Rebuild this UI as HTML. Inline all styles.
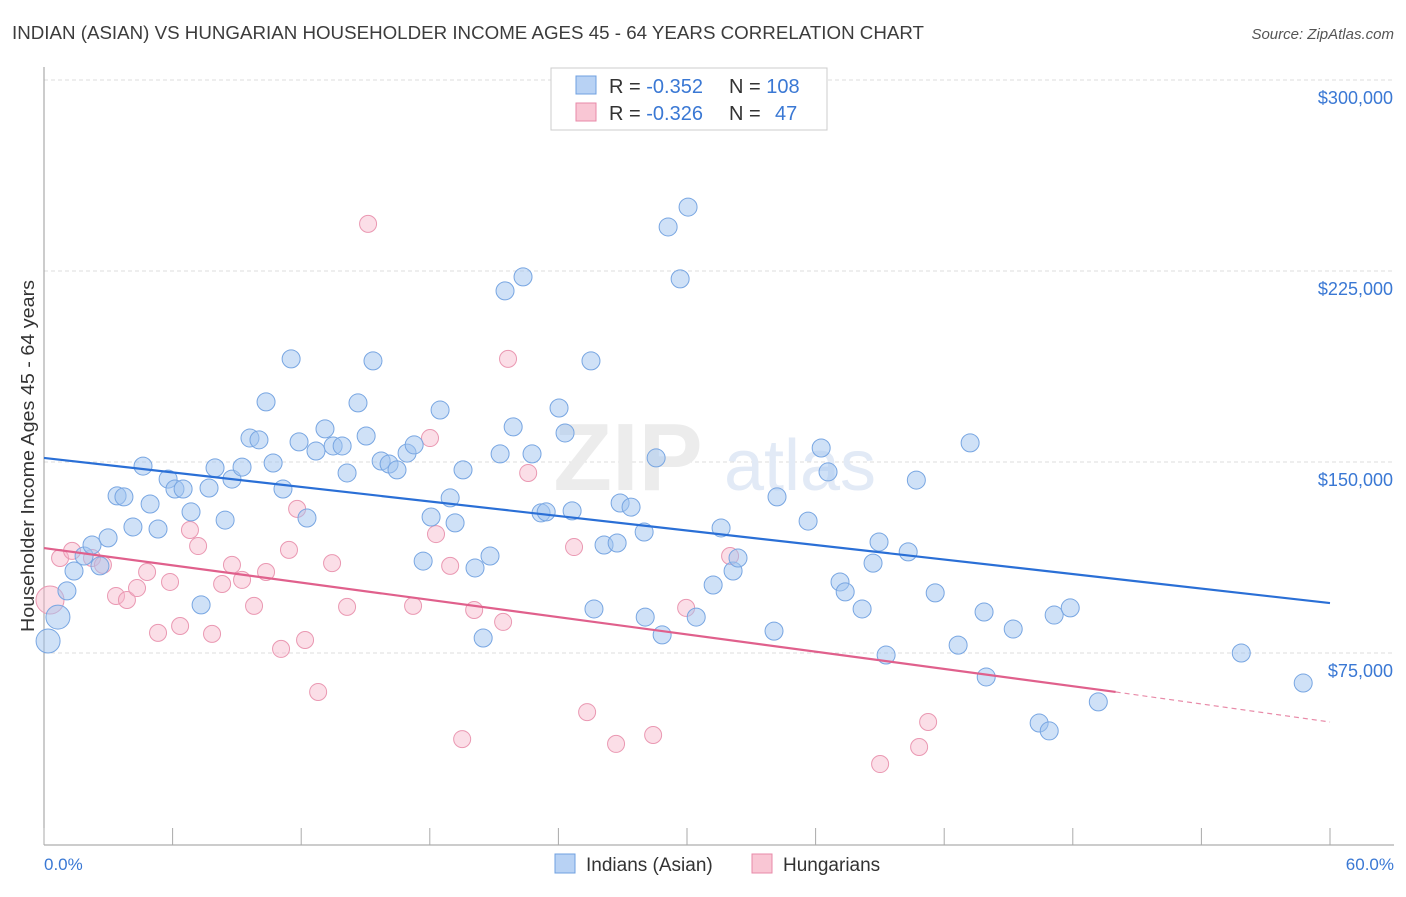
<!DOCTYPE html>
<html><head><meta charset="utf-8">
<style>
body{margin:0;background:#fff;font-family:"Liberation Sans",sans-serif;}
svg text{font-family:"Liberation Sans",sans-serif;}
</style></head>
<body>
<svg id="chart" width="1406" height="892" viewBox="0 0 1406 892" xmlns="http://www.w3.org/2000/svg">
<text x="12" y="39" font-size="18" fill="#3c3c3c" textLength="912" lengthAdjust="spacingAndGlyphs">INDIAN (ASIAN) VS HUNGARIAN HOUSEHOLDER INCOME AGES 45 - 64 YEARS CORRELATION CHART</text>
<text x="1394" y="39" font-size="15" fill="#555" font-style="italic" text-anchor="end">Source: ZipAtlas.com</text>
<g id="grid"></g>
<g>
<text x="628" y="490" font-size="96" fill="#ececec" text-anchor="middle" font-family="Liberation Serif, serif" font-weight="bold">ZIP</text>
<text x="800" y="490" font-size="72" fill="#e2eaf6" text-anchor="middle">atlas</text>
</g>
<line x1="44" y1="67" x2="44" y2="845" stroke="#999" stroke-width="1"/>
<line x1="44" y1="845" x2="1394" y2="845" stroke="#999" stroke-width="1"/>
<g id="xticks"></g>
<g id="ylabels"></g>
<text transform="translate(34,456) rotate(-90)" font-size="18" fill="#333" text-anchor="middle" textLength="352" lengthAdjust="spacingAndGlyphs">Householder Income Ages 45 - 64 years</text>
<text x="44" y="870" font-size="17" fill="#3a78d4">0.0%</text>
<text x="1394" y="870" font-size="17" fill="#3a78d4" text-anchor="end">60.0%</text>
<g id="pinkPts"></g>
<g id="bluePts"></g>
<g id="trends"></g>
<g>
<rect x="551" y="68" width="276" height="62" fill="#fff" stroke="#ccc"/>
<rect x="576" y="76" width="20" height="18" fill="#b8d2f4" stroke="#6fa0e0"/>
<rect x="576" y="103" width="20" height="18" fill="#f9c6d4" stroke="#e88aa8"/>
<text x="609" y="93" font-size="20" fill="#333">R = <tspan fill="#3a78d4">-0.352</tspan></text>
<text x="729" y="93" font-size="20" fill="#333">N = <tspan fill="#3a78d4">108</tspan></text>
<text x="609" y="120" font-size="20" fill="#333">R = <tspan fill="#3a78d4">-0.326</tspan></text>
<text x="729" y="120" font-size="20" fill="#333">N = <tspan x="775" fill="#3a78d4">47</tspan></text>
</g>
<g>
<rect x="555" y="854" width="20" height="19" fill="#b8d2f4" stroke="#6fa0e0"/>
<text x="586" y="871" font-size="19" fill="#333">Indians (Asian)</text>
<rect x="752" y="854" width="20" height="19" fill="#f9c6d4" stroke="#e88aa8"/>
<text x="783" y="871" font-size="19" fill="#333">Hungarians</text>
</g>
</svg>
<script>
const yTicks=[75,150,225,300];
const yTickLabels=["$75,000","$150,000","$225,000","$300,000"];
const xTickPcts=[0,6,12,18,24,30,36,42,48,54,60];
const blueX=[0.19,0.65,1.07,1.4,1.87,2.24,2.61,2.99,3.41,3.73,4.15,4.62,4.95,5.32,5.79,6.11,6.49,6.86,7.33,7.7,7.98,8.45,8.77,9.24,9.61,10.03,10.36,10.69,11.15,11.53,11.9,12.27,12.69,13.11,13.49,13.91,14.14,14.65,15.03,15.35,15.73,16.1,16.47,16.94,17.27,17.69,18.06,18.48,18.95,19.18,19.55,20.11,20.49,20.81,21.28,21.51,21.89,22.35,22.77,23.19,23.43,24.03,24.31,24.64,25.52,25.66,26.13,26.74,26.88,27.39,28.0,28.05,28.56,28.84,29.12,29.68,30.05,30.43,31.22,31.59,32.15,32.38,34.06,34.2,35.65,36.26,36.58,37.14,37.38,38.17,38.68,38.96,39.29,40.32,40.7,41.58,42.65,43.21,43.86,43.96,45.22,46.43,46.9,47.13,47.88,49.19,55.86,58.75];
const blueY=[79.7,89.1,99.4,107.2,113.1,117.4,109.2,120.2,136.7,136.3,124.5,148.4,133.5,123.7,143.3,139.4,139.4,130.4,93.9,139.8,147.7,127.2,143.3,148.0,159.4,158.7,173.6,149.6,139.4,190.5,157.9,128.0,154.3,163.0,156.3,156.3,145.7,173.2,160.2,189.7,150.4,149.2,146.9,153.5,156.7,111.1,128.4,170.4,135.9,126.1,146.9,108.4,80.9,113.1,153.2,217.2,163.8,222.7,153.2,130.0,130.4,171.2,161.4,130.8,189.7,92.3,117.4,118.2,133.9,132.3,122.5,89.1,151.6,82.1,242.3,221.9,250.1,89.1,101.7,124.1,107.2,112.3,83.6,136.3,126.8,155.5,146.1,102.9,99.0,92.3,110.3,118.6,74.2,114.7,142.9,98.6,78.1,157.5,91.1,65.6,84.4,47.5,44.4,89.9,92.7,55.8,75.0,63.2];
const pinkX=[0.28,0.75,1.31,2.24,2.75,3.36,3.87,4.34,4.81,5.32,5.88,6.35,6.81,7.19,7.84,8.31,8.77,9.24,9.8,10.36,11.06,11.43,11.81,12.18,12.79,13.44,14.14,15.12,17.22,18.01,18.29,18.95,19.51,20.07,21.42,21.65,22.59,24.73,25.34,26.69,28.42,29.96,32.01,39.01,40.83,41.25];
const pinkY=[95.8,112.3,115.1,112.3,109.6,97.4,95.8,100.5,106.8,82.9,102.9,85.6,123.3,117.0,82.5,102.1,109.6,103.7,93.5,106.8,76.6,115.5,131.6,80.1,59.7,110.3,93.1,243.5,93.5,159.4,121.7,109.2,41.2,91.9,87.2,190.5,145.7,116.6,51.8,39.3,42.8,92.7,113.1,31.4,38.1,47.9];
const blueTrendX=[0,60], blueTrendY=[151.6,94.6];
const pinkTrendX=[0,50,60], pinkTrendY=[116.2,59.7,47.9];

const NS="http://www.w3.org/2000/svg";
const xs=p=>44+p*1286/60;
const ys=v=>844-v*191/75;
function mk(tag,attrs,parent){const e=document.createElementNS(NS,tag);for(const k in attrs)e.setAttribute(k,attrs[k]);parent.appendChild(e);return e;}
const grid=document.getElementById('grid');
const yl=document.getElementById('ylabels');
yTicks.forEach((t,i)=>{
  const l=mk('line',{x1:44,x2:1394,y1:ys(t),y2:ys(t),stroke:'#ddd','stroke-dasharray':'4,3'},grid);
  
  
  const tx=mk('text',{x:1393,y:ys(t)+24,'font-size':18,fill:'#3a78d4','text-anchor':'end'},yl);
  tx.textContent=yTickLabels[i];
  
  
});
const xt=document.getElementById('xticks');
xTickPcts.forEach(p=>{
  const l=mk('line',{x1:xs(p),x2:xs(p),y1:828,y2:845,stroke:'#aaa'},xt);
  
  
});
const bp=document.getElementById('bluePts');
blueX.forEach((x,i)=>{
  const r=i<2?12:9;
  const c=mk('circle',{cx:xs(x),cy:ys(blueY[i]),r:r,fill:'rgba(160,196,240,0.5)',stroke:'#78a6e2','stroke-width':1},bp);
  
  
});
const pp=document.getElementById('pinkPts');
pinkX.forEach((x,i)=>{
  const r=i<1?14:8.5;
  const c=mk('circle',{cx:xs(x),cy:ys(pinkY[i]),r:r,fill:'rgba(246,182,202,0.45)',stroke:'#ea98b2','stroke-width':1},pp);
  
  
});
const tr=document.getElementById('trends');
const bl=mk('line',{x1:xs(blueTrendX[0]),y1:ys(blueTrendY[0]),x2:xs(blueTrendX[1]),y2:ys(blueTrendY[1]),stroke:'#2a6fd6','stroke-width':2.2},tr);


const pl=mk('line',{x1:xs(pinkTrendX[0]),y1:ys(pinkTrendY[0]),x2:xs(pinkTrendX[1]),y2:ys(pinkTrendY[1]),stroke:'#e0608c','stroke-width':2.2},tr);


const pd=mk('line',{x1:xs(pinkTrendX[1]),y1:ys(pinkTrendY[1]),x2:xs(pinkTrendX[2]),y2:ys(pinkTrendY[2]),stroke:'#e88aa8','stroke-width':1.2,'stroke-dasharray':'5,4'},tr);


</script>
</body></html>
